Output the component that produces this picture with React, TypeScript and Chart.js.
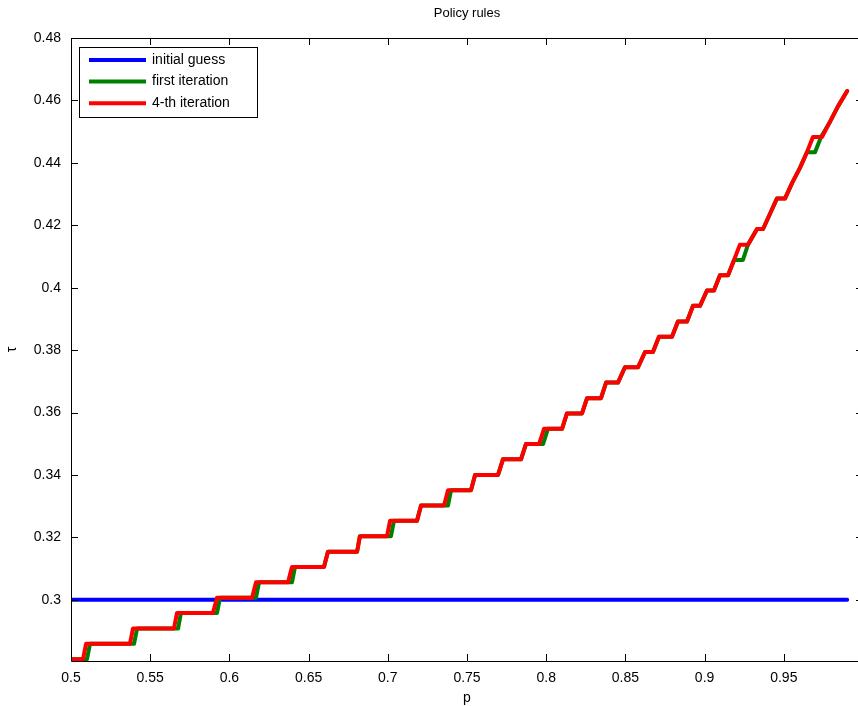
import React, { useEffect, useRef } from "react";
import { Chart, registerables } from "chart.js";
Chart.register(...registerables);

// ---- data ----
const tauLevels = [
  0.281, 0.2859, 0.2908, 0.2958, 0.3007, 0.3056, 0.3105, 0.3154, 0.3204, 0.3253,
  0.3302, 0.3351, 0.34, 0.345, 0.3499, 0.3548, 0.3597, 0.3646, 0.3696, 0.3745,
  0.3794, 0.3843, 0.3892, 0.3942, 0.3991, 0.404, 0.4089, 0.4138, 0.4188, 0.4237,
  0.4286, 0.4335, 0.4384, 0.4434, 0.4483, 0.4532, 0.4581, 0.463,
];
// p where each tau level starts / ends (4-th iteration)
const redStart = [
  0.5, 0.5095, 0.5391, 0.5669, 0.5922, 0.6168, 0.6395, 0.6622, 0.6824, 0.7014,
  0.721, 0.738, 0.7551, 0.7727, 0.7872, 0.7986, 0.8131, 0.8258, 0.8378, 0.8497,
  0.8624, 0.8712, 0.8832, 0.8927, 0.9015, 0.9097, 0.9186, 0.9223, 0.9331, 0.9413,
  0.9457, 0.9552, 0.9602, 0.9646, 0.9684, 0.9792, 0.9842, 0.99,
];
const redEnd = [
  0.5076, 0.5372, 0.565, 0.5896, 0.6143, 0.637, 0.6597, 0.6806, 0.6995, 0.7184,
  0.7355, 0.7525, 0.7696, 0.7841, 0.7955, 0.81, 0.8226, 0.8346, 0.8453, 0.858,
  0.8674, 0.8794, 0.8889, 0.8971, 0.9059, 0.9148, 0.9186, 0.9274, 0.9369, 0.9413,
  0.9508, 0.9552, 0.9602, 0.9646, 0.9741, 0.9792, 0.9842, 0.99,
];
// first iteration
const greenStart = [
  0.5, 0.512, 0.5417, 0.5694, 0.5941, 0.6187, 0.6414, 0.6622, 0.6824, 0.7039,
  0.721, 0.7399, 0.7551, 0.7727, 0.7872, 0.8011, 0.8131, 0.8258, 0.8378, 0.8497,
  0.8624, 0.8712, 0.8832, 0.8927, 0.9015, 0.9097, 0.9186, 0.9274, 0.9331, 0.9413,
  0.9457, 0.9552, 0.9602, 0.9646, 0.9735, 0.9792, 0.9842, 0.99,
];
const greenEnd = [
  0.5101, 0.5398, 0.5676, 0.5922, 0.6168, 0.6395, 0.6597, 0.6806, 0.702, 0.7184,
  0.738, 0.7525, 0.7696, 0.7841, 0.798, 0.81, 0.8226, 0.8346, 0.8453, 0.858,
  0.8674, 0.8794, 0.8889, 0.8971, 0.9059, 0.9148, 0.9242, 0.9274, 0.9369, 0.9413,
  0.9508, 0.9552, 0.9602, 0.9697, 0.9741, 0.9792, 0.9842, 0.99,
];
// initial guess
const initP = [0.5, 0.99];
const initTau = [0.3, 0.3];

const xTicks = [0.5, 0.55, 0.6, 0.65, 0.7, 0.75, 0.8, 0.85, 0.9, 0.95, 1];
const xTickLabels = ["0.5", "0.55", "0.6", "0.65", "0.7", "0.75", "0.8", "0.85", "0.9", "0.95", "1"];
const yTicks = [0.3, 0.32, 0.34, 0.36, 0.38, 0.4, 0.42, 0.44, 0.46, 0.48];
const yTickLabels = ["0.3", "0.32", "0.34", "0.36", "0.38", "0.4", "0.42", "0.44", "0.46", "0.48"];
const seriesNames = ["initial guess", "first iteration", "4-th iteration"];
const seriesColors = ["#0000ff", "#008000", "#ff0000"];
const titleText = "Policy rules";
const xLabel = "p";
const yLabel = "\u03c4";

function stairs(levels: number[], s: number[], e: number[]) {
  const pts: { x: number; y: number }[] = [];
  for (let k = 0; k < levels.length; k++) {
    pts.push({ x: s[k], y: levels[k] });
    if (e[k] > s[k]) pts.push({ x: e[k], y: levels[k] });
  }
  return pts;
}

const FONT = '"Liberation Sans", Arial, sans-serif';

const matlabAxes = {
  id: "matlabAxes",
  afterDraw(chart: any) {
    const { ctx, chartArea: a, scales } = chart;
    const xs = scales.x;
    const ys = scales.y;
    ctx.save();
    ctx.strokeStyle = "#000";
    ctx.lineWidth = 1;
    // box
    ctx.beginPath();
    ctx.rect(a.left + 0.5, a.top + 0.5, a.right - a.left, a.bottom - a.top);
    ctx.stroke();
    // inward ticks
    const tl = 7;
    ctx.beginPath();
    xTicks.forEach((v) => {
      const px = Math.round(xs.getPixelForValue(v)) + 0.5;
      ctx.moveTo(px, a.bottom);
      ctx.lineTo(px, a.bottom - tl);
      ctx.moveTo(px, a.top);
      ctx.lineTo(px, a.top + tl);
    });
    yTicks.forEach((v) => {
      const py = Math.round(ys.getPixelForValue(v)) + 0.5;
      ctx.moveTo(a.left, py);
      ctx.lineTo(a.left + tl, py);
      ctx.moveTo(a.right, py);
      ctx.lineTo(a.right - tl, py);
    });
    ctx.stroke();
    // tick labels
    ctx.fillStyle = "#000";
    ctx.font = "14px " + FONT;
    ctx.textBaseline = "middle";
    ctx.textAlign = "center";
    xTicks.forEach((v, i) => {
      ctx.fillText(xTickLabels[i], xs.getPixelForValue(v), a.bottom + 17);
    });
    ctx.textAlign = "right";
    yTicks.forEach((v, i) => {
      ctx.fillText(yTickLabels[i], a.left - 10, ys.getPixelForValue(v));
    });
    // title and axis labels
    const cx = (a.left + a.right) / 2;
    ctx.textAlign = "center";
    ctx.font = "13px " + FONT;
    ctx.fillText(titleText, cx, 13);
    ctx.font = "14px " + FONT;
    ctx.fillText(xLabel, cx, a.bottom + 37);
    ctx.save();
    ctx.translate(12, (a.top + a.bottom) / 2);
    ctx.rotate(-Math.PI / 2);
    ctx.fillText(yLabel, 0, 0);
    ctx.restore();
    // legend
    const lx = a.left + 8;
    const ly = a.top + 9;
    const lw = 178;
    const lh = 70;
    ctx.fillStyle = "#fff";
    ctx.fillRect(lx, ly, lw, lh);
    ctx.strokeStyle = "#000";
    ctx.lineWidth = 1;
    ctx.strokeRect(lx + 0.5, ly + 0.5, lw, lh);
    ctx.textAlign = "left";
    seriesNames.forEach((name, i) => {
      const yy = ly + 13 + i * 21.6;
      ctx.strokeStyle = seriesColors[i];
      ctx.lineWidth = 4;
      ctx.beginPath();
      ctx.moveTo(lx + 10, yy);
      ctx.lineTo(lx + 67, yy);
      ctx.stroke();
      ctx.fillStyle = "#000";
      ctx.fillText(name, lx + 73, yy);
    });
    ctx.restore();
  },
};

export default function App() {
  const ref = useRef<HTMLCanvasElement | null>(null);
  useEffect(() => {
    if (!ref.current) return;
    const chart = new Chart(ref.current, {
      type: "scatter",
      data: {
        datasets: [
          {
            label: seriesNames[0],
            data: initP.map((p, i) => ({ x: p, y: initTau[i] })),
            borderColor: seriesColors[0],
            order: 3,
          },
          {
            label: seriesNames[1],
            data: stairs(tauLevels, greenStart, greenEnd),
            borderColor: seriesColors[1],
            order: 2,
          },
          {
            label: seriesNames[2],
            data: stairs(tauLevels, redStart, redEnd),
            borderColor: seriesColors[2],
            order: 1,
          },
        ].map((d) => ({
          ...d,
          showLine: true,
          borderWidth: 4,
          pointRadius: 0,
          pointHoverRadius: 0,
          borderCapStyle: "round" as const,
          borderJoinStyle: "round" as const,
          tension: 0,
          clip: 0,
        })),
      },
      options: {
        animation: false,
        responsive: false,
        maintainAspectRatio: false,
        events: [],
        layout: { padding: { left: 0, top: 38, right: 17, bottom: 0 } },
        plugins: { legend: { display: false }, tooltip: { enabled: false }, title: { display: false } },
        scales: {
          x: {
            type: "linear",
            min: 0.5,
            max: 1,
            grid: { display: false },
            border: { display: false },
            ticks: { display: false },
            afterFit: (s: any) => {
              s.height = 45;
            },
          },
          y: {
            type: "linear",
            min: 0.2804,
            max: 0.48,
            grid: { display: false },
            border: { display: false },
            ticks: { display: false },
            afterFit: (s: any) => {
              s.width = 71;
            },
          },
        },
      },
      plugins: [matlabAxes],
    });
    return () => chart.destroy();
  }, []);
  return (
    <div
      style={{
        position: "fixed",
        left: 0,
        top: 0,
        width: 858,
        height: 706,
        overflow: "hidden",
        background: "#fff",
      }}
    >
      <canvas ref={ref} width={880} height={706} style={{ display: "block" }} />
    </div>
  );
}
